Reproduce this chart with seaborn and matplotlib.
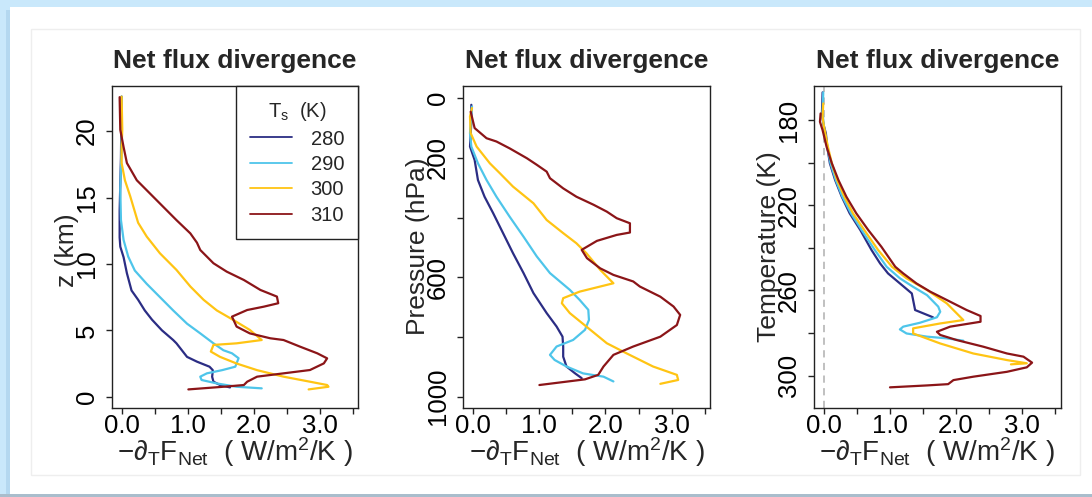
import matplotlib
matplotlib.use("Agg")
import matplotlib.pyplot as plt
from matplotlib.patches import Rectangle
import pandas as pd
import seaborn as sns

# Surface temperature experiments and their line colours
surface_temps = ["280", "290", "300", "310"]
line_colors = ["#2B2D84", "#4EC5EA", "#FFC413", "#8B1518"]

# ---- Net flux divergence vs height (km) ----
flux_z_280 = [0.00, -0.01, -0.03, -0.03, -0.02, 0.03, 0.08, 0.15, 0.25, 0.35, 0.46, 0.61, 0.78, 0.83, 0.99, 1.14, 1.33, 1.38, 1.37, 1.39, 1.49, 1.64]
z_280 = [22.6, 18.0, 14.0, 12.0, 11.3, 10.5, 9.3, 8.0, 7.3, 6.5, 5.8, 5.0, 4.27, 4.02, 3.0, 2.64, 2.26, 2.0, 1.5, 1.13, 0.88, 0.70]

flux_z_290 = [0.00, 0.00, -0.02, -0.01, 0.03, 0.10, 0.20, 0.38, 0.58, 0.78, 0.99, 1.19, 1.39, 1.54, 1.67, 1.77, 1.72, 1.52, 1.29, 1.19, 1.21, 1.44, 1.74, 2.12]
z_290 = [22.6, 18.8, 15.6, 13.3, 11.8, 10.55, 9.5, 8.5, 7.5, 6.5, 5.5, 4.77, 4.02, 3.5, 3.27, 2.9, 2.26, 2.0, 1.76, 1.51, 1.26, 1.0, 0.75, 0.63]

flux_z_300 = [0.00, 0.01, 0.00, 0.00, 0.05, 0.13, 0.25, 0.38, 0.58, 0.83, 1.04, 1.24, 1.44, 1.69, 1.94, 2.12, 1.74, 1.39, 1.35, 1.49, 1.74, 2.05, 2.45, 2.85, 3.11, 3.13, 2.83]
z_300 = [22.6, 20.1, 18.8, 17.6, 16.3, 15.1, 13.1, 12.06, 10.8, 9.55, 8.3, 7.3, 6.5, 5.78, 5.03, 4.27, 4.02, 3.9, 3.4, 3.0, 2.5, 2.0, 1.51, 1.13, 0.88, 0.75, 0.55]

flux_z_310 = [-0.03, -0.02, 0.03, 0.08, 0.23, 0.43, 0.63, 0.83, 1.04, 1.14, 1.19, 1.39, 1.59, 1.85, 2.10, 2.35, 2.37, 2.15, 1.90, 1.67, 1.74, 1.94, 2.25, 2.45, 2.70, 2.96, 3.11, 3.06, 2.85, 2.45, 2.05, 1.90, 1.85, 1.54, 1.01]
z_310 = [22.56, 20.1, 18.8, 17.6, 16.3, 15.3, 14.3, 13.3, 12.3, 11.6, 11.05, 10.05, 9.42, 8.79, 8.04, 7.54, 7.04, 6.78, 6.53, 6.03, 5.28, 4.77, 4.4, 4.27, 3.77, 3.27, 2.89, 2.51, 2.01, 1.76, 1.51, 1.13, 0.88, 0.75, 0.55]

# ---- Net flux divergence vs pressure (hPa) ----
flux_p_280 = [-0.03, -0.03, -0.05, 0.02, 0.07, 0.17, 0.30, 0.45, 0.60, 0.76, 0.91, 1.11, 1.26, 1.35, 1.36, 1.36, 1.41, 1.54, 1.64]
p_280 = [22, 80, 162, 207, 274, 330, 385, 452, 519, 586, 653, 720, 765, 799, 832, 866, 899, 922, 938]

flux_p_290 = [-0.02, -0.05, -0.03, 0.07, 0.20, 0.35, 0.55, 0.76, 0.96, 1.16, 1.31, 1.46, 1.61, 1.74, 1.75, 1.69, 1.51, 1.26, 1.16, 1.23, 1.41, 1.66, 1.97, 2.12]
p_290 = [28, 117, 162, 218, 274, 330, 397, 464, 530, 586, 614, 642, 676, 709, 743, 776, 810, 832, 860, 877, 899, 922, 933, 949]

flux_p_300 = [-0.02, -0.05, -0.04, 0.05, 0.25, 0.40, 0.60, 0.91, 1.11, 1.36, 1.56, 1.71, 1.92, 2.12, 1.61, 1.36, 1.34, 1.46, 1.71, 2.02, 2.32, 2.72, 3.08, 3.10, 2.83]
p_300 = [33, 61, 117, 162, 218, 251, 296, 352, 408, 452, 486, 519, 575, 620, 648, 670, 687, 720, 765, 821, 855, 899, 927, 944, 957]

flux_p_310 = [-0.04, 0.02, 0.20, 0.35, 0.55, 0.81, 0.96, 1.11, 1.16, 1.36, 1.56, 1.82, 2.02, 2.17, 2.37, 2.37, 2.17, 1.87, 1.64, 1.72, 1.92, 2.12, 2.42, 2.52, 2.83, 3.03, 3.13, 3.08, 2.83, 2.42, 2.12, 1.97, 1.89, 1.69, 1.00]
p_310 = [45, 100, 134, 145, 168, 201, 223, 246, 268, 302, 330, 357, 380, 402, 419, 450, 458, 478, 508, 536, 570, 592, 614, 631, 665, 698, 726, 760, 799, 832, 860, 899, 927, 942, 961]

# ---- Net flux divergence vs temperature (K) ----
flux_t_280 = [-0.02, -0.03, -0.01, 0.03, 0.05, 0.09, 0.17, 0.27, 0.39, 0.55, 0.72, 0.85, 0.97, 1.15, 1.33, 1.35, 1.38, 1.65]
t_280 = [167.0, 176.9, 181.6, 186.3, 192.5, 200.3, 208.2, 216.0, 223.8, 231.6, 241.0, 247.3, 252.0, 256.7, 261.4, 264.5, 269.2, 272.6]

flux_t_290 = [-0.01, -0.02, 0.00, 0.05, 0.10, 0.18, 0.28, 0.41, 0.57, 0.77, 0.95, 1.15, 1.35, 1.56, 1.73, 1.76, 1.71, 1.45, 1.20, 1.15, 1.25, 1.56, 1.86, 2.11]
t_290 = [167.0, 176.9, 183.0, 192.5, 200.3, 208.2, 216.0, 223.8, 231.6, 241.0, 248.9, 254.3, 258.3, 262.2, 267.6, 270.0, 272.6, 275.2, 277.0, 278.3, 280.2, 281.7, 282.5, 283.6]

flux_t_300 = [-0.01, -0.02, 0.00, 0.06, 0.12, 0.20, 0.31, 0.44, 0.61, 0.82, 1.03, 1.25, 1.56, 1.86, 2.11, 1.76, 1.35, 1.35, 1.76, 2.26, 2.77, 3.07, 2.83]
t_300 = [172.2, 178.4, 183.0, 192.5, 200.3, 208.2, 216.0, 223.8, 231.6, 241.0, 248.9, 254.3, 259.8, 266.1, 273.9, 275.5, 277.8, 280.2, 284.9, 289.6, 292.7, 294.2, 294.7]

flux_t_310 = [-0.05, -0.06, -0.02, 0.04, 0.12, 0.22, 0.34, 0.49, 0.67, 0.87, 1.08, 1.20, 1.40, 1.61, 1.86, 2.16, 2.37, 2.37, 1.91, 1.71, 1.76, 2.01, 2.41, 2.77, 3.02, 3.15, 3.07, 2.77, 2.26, 1.96, 1.88, 1.56, 1.00]
t_310 = [176.9, 180.8, 184.7, 192.5, 200.3, 208.2, 216.0, 223.8, 231.6, 239.5, 248.9, 252.0, 256.7, 260.6, 264.5, 269.2, 272.0, 274.7, 277.0, 279.4, 280.9, 283.3, 286.4, 289.6, 291.1, 293.9, 296.1, 298.2, 300.5, 302.1, 304.0, 304.6, 305.5]

# Axis ticks
flux_ticks = [0.0, 0.5, 1.0, 1.5, 2.0, 2.5, 3.0, 3.5]
flux_ticklabels = ["0.0", "", "1.0", "", "2.0", "", "3.0", ""]
z_ticks = [0, 5, 10, 15, 20]
z_ticklabels = ["0", "5", "10", "15", "20"]
p_ticks = [0, 200, 400, 600, 800, 1000]
p_ticklabels = ["0", "200", "", "600", "", "1000"]
t_ticks = [180, 200, 220, 240, 260, 280, 300]
t_ticklabels = ["180", "", "220", "", "260", "", "300"]

sns.set_style("ticks")
plt.rcParams["font.family"] = ["Liberation Sans", "DejaVu Sans"]
plt.rcParams["mathtext.fontset"] = "custom"
plt.rcParams["mathtext.rm"] = "Liberation Sans"
plt.rcParams["mathtext.it"] = "Liberation Sans:italic"
plt.rcParams["mathtext.bf"] = "Liberation Sans:bold"

W, H = 1092, 497
fig = plt.figure(figsize=(W / 100, H / 100), dpi=100)
fig.patch.set_facecolor("#C9E8FB")

# Slide card behind the panels
fig.add_artist(Rectangle((10 / W, 1 - 494 / H), (W - 10) / W, (494 - 7) / H,
                         transform=fig.transFigure, facecolor="white",
                         edgecolor="none", zorder=-5))
fig.add_artist(Rectangle((6 / W, 3 / H), 4 / W, (494 - 10) / H,
                         transform=fig.transFigure, facecolor="#B4D8F0",
                         edgecolor="none", zorder=-4))
fig.add_artist(Rectangle((0, 0), 1, 3 / H, transform=fig.transFigure,
                         facecolor="#A9BDCC", edgecolor="none", zorder=-4))
fig.add_artist(Rectangle((31 / W, 1 - 475 / H), (1080 - 31) / W, (475 - 29) / H,
                         transform=fig.transFigure, fill=False,
                         edgecolor="#EEEEEE", lw=1, zorder=-3))

palette = dict(zip(surface_temps, line_colors))


def profile_frame(xs, ys, name):
    parts = [pd.DataFrame({"flux": x, name: y, "Ts": ts})
             for ts, x, y in zip(surface_temps, xs, ys)]
    return pd.concat(parts, ignore_index=True)


df_z = profile_frame([flux_z_280, flux_z_290, flux_z_300, flux_z_310],
                     [z_280, z_290, z_300, z_310], "z")
df_p = profile_frame([flux_p_280, flux_p_290, flux_p_300, flux_p_310],
                     [p_280, p_290, p_300, p_310], "p")
df_t = profile_frame([flux_t_280, flux_t_290, flux_t_300, flux_t_310],
                     [t_280, t_290, t_300, t_310], "T")

ax_w = 246.5 / W
ax_h = 322 / H
ax_b = (H - 408) / H
lefts = [111.7 / W, 463.4 / W, 814.0 / W]
axes = [fig.add_axes([l, ax_b, ax_w, ax_h]) for l in lefts]

xlabel = r"$\mathregular{-\partial_T F_{Net}}$  ( W/m$\mathregular{^2}$/K )"

panels = [
    (df_z, "z", "z (km)", z_ticks, z_ticklabels, (-0.85, 23.4), 0.49),
    (df_p, "p", "Pressure (hPa)", p_ticks, p_ticklabels, (1038, -41), 0.503),
    (df_t, "T", "Temperature (K)", t_ticks, t_ticklabels, (315.2, 164.0), 0.5),
]

for i, (ax, (df, col, ylab, yt, ytl, ylim, ymid)) in enumerate(zip(axes, panels)):
    ax.set_facecolor("white")
    if col == "T":
        ax.axvline(0, color="#BBBBBB", ls=(0, (4, 3)), lw=1.3, zorder=0)
    sns.lineplot(data=df, x="flux", y=col, hue="Ts", hue_order=surface_temps,
                 palette=palette, sort=False, estimator=None, lw=1.6,
                 legend=(i == 0), ax=ax)
    ax.set_xlim(-0.15, 3.58)
    ax.set_ylim(*ylim)
    ax.set_xticks(flux_ticks, flux_ticklabels)
    ax.set_yticks(yt, ytl)
    for s in ax.spines.values():
        s.set_visible(True)
        s.set_color("#222222")
        s.set_linewidth(1.0)
    ax.tick_params(axis="both", direction="out", length=4.5, width=1.0,
                   color="#222222", labelsize=18.5, labelcolor="black")
    ax.tick_params(axis="x", pad=0)
    ax.tick_params(axis="y", pad=5)
    plt.setp(ax.get_yticklabels(), rotation=90, va="center")
    ax.set_title("Net flux divergence", fontsize=19, fontweight="bold", pad=13)
    ax.set_xlabel(xlabel, fontsize=20)
    ax.xaxis.set_label_coords(0.5, -0.137)
    ax.xaxis.label.set_va("center")
    ax.set_ylabel(ylab, fontsize=19)
    ax.yaxis.set_label_coords(-0.183, ymid)
    ax.yaxis.label.set_va("center")

# Legend for the surface temperature experiments
handles, labels = axes[0].get_legend_handles_labels()
leg = axes[0].legend(handles, labels, title=r"$\mathregular{T_s}$  (K)",
                     loc="upper right", bbox_to_anchor=(1, 1), borderaxespad=0,
                     frameon=True, fancybox=False, framealpha=1,
                     edgecolor="#222222", fontsize=14.5, title_fontsize=14.5,
                     handlelength=2.1, handletextpad=0.9, labelspacing=0.32,
                     borderpad=0.7)
leg.get_frame().set_linewidth(1.0)
for line in leg.get_lines():
    line.set_linewidth(1.3)

fig.savefig("out.png", dpi=100, facecolor=fig.get_facecolor())
